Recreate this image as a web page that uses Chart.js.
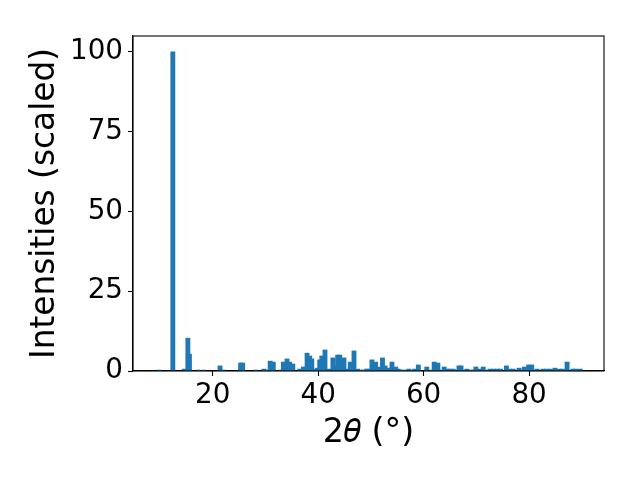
<!DOCTYPE html>
<html>
<head>
<meta charset="utf-8">
<script src="https://cdn.jsdelivr.net/npm/chart.js@4/dist/chart.umd.min.js"></script>
<style>
html,body{margin:0;padding:0;background:#fff;}
#c{display:block;}
</style>
</head>
<body>
<canvas id="c" width="640" height="480" style="width:640px;height:480px"></canvas>
<script>
const twoTheta = [9.8,12.45,14.6,15.3,15.6,17.2,18.3,21.4,22.0,25.3,25.7,28.2,29.7,30.1,30.9,31.5,32.9,33.4,34.1,34.6,35.2,36.5,37.2,37.9,38.4,38.8,39.3,39.9,40.3,40.7,41.3,42.0,42.8,43.2,43.7,44.1,44.5,44.9,45.6,46.1,46.8,47.5,48.0,48.6,49.2,49.6,50.2,50.9,51.4,52.2,52.7,53.2,54.0,54.7,55.2,55.7,56.3,57.2,57.7,58.3,59.0,60.6,61.6,62.0,62.7,63.3,63.9,64.5,65.0,65.6,66.7,67.1,67.6,68.2,68.9,69.5,69.9,70.5,71.3,72.0,72.6,73.3,74.0,74.6,75.7,76.3,77.0,78.1,79.1,79.9,80.5,81.5,82.6,83.3,84.0,84.9,85.7,86.3,87.2,88.3,88.8,89.7];
const intensity = [0.3,100,0.6,10.3,5.3,0.3,0.3,1.6,0.3,2.5,2.5,0.3,0.6,0.3,3.1,2.8,0.3,2.8,3.8,2.8,2.2,0.6,1.25,5.6,4.7,3.8,0.6,0.9,3.5,4.7,6.6,0.6,4.1,1.6,5.0,5.0,2.5,4.1,0.6,2.8,6.3,0.6,0.3,0.3,0.6,0.6,3.5,2.8,1.25,4.1,1.6,0.9,2.8,1.25,0.6,0.3,0.3,0.6,0.3,0.6,1.9,1.25,0.3,2.8,2.5,0.3,1.25,0.6,0.6,0.6,1.6,1.6,0.3,0.6,0.3,0.3,1.25,0.6,1.25,0.3,0.6,0.6,0.6,0.6,1.6,0.6,0.6,0.9,1.25,1.9,1.9,0.6,0.6,0.6,0.6,0.9,0.6,0.6,2.8,0.6,0.6,0.6];
const xTicks = [20,40,60,80];
const yTicks = [0,25,50,75,100];
const xTitle = '2\u{1D703} (\u00B0)';
const yTitle = 'Intensities (scaled)';

const points = twoTheta.map((x,i)=>({x:x, y:intensity[i]}));
const FONT = "'DejaVu Sans', sans-serif";

const frame = {
  id:'frame',
  afterDraw(chart){
    const a = chart.chartArea, ctx = chart.ctx;
    ctx.save();
    ctx.strokeStyle = '#000';
    ctx.lineWidth = 1.1;
    ctx.strokeRect(a.left, a.top, a.right-a.left, a.bottom-a.top);
    ctx.restore();
  }
};

new Chart(document.getElementById('c'), {
  type:'bar',
  data:{datasets:[{data:points, backgroundColor:'#1f77b4', borderWidth:0, barThickness:4.2}]},
  options:{
    responsive:false, animation:false,
    layout:{padding:{top:36,right:36,left:0,bottom:0}},
    plugins:{legend:{display:false}, tooltip:{enabled:false}},
    scales:{
      x:{type:'linear', min:4.9, max:94.2, offset:false,
        afterBuildTicks:s=>{s.ticks = xTicks.map(v=>({value:v}));},
        afterFit:s=>{s.height = 109;},
        grid:{offset:false, drawOnChartArea:false, tickLength:5, tickWidth:1.1, tickColor:'#000'},
        border:{color:'#000', width:1.1},
        ticks:{color:'#000', font:{family:FONT, size:27.8}, padding:3, maxRotation:0, autoSkip:false},
        title:{display:true, text:xTitle, color:'#000', font:{family:FONT, size:33.3}, padding:{top:0,bottom:27}}
      },
      y:{min:0, max:105,
        afterBuildTicks:s=>{s.ticks = yTicks.map(v=>({value:v}));},
        afterFit:s=>{s.width = 133;},
        grid:{offset:false, drawOnChartArea:false, tickLength:5, tickWidth:1.1, tickColor:'#000'},
        border:{color:'#000', width:1.1},
        ticks:{color:'#000', font:{family:FONT, size:27.8}, padding:5, autoSkip:false},
        title:{display:true, text:yTitle, color:'#000', font:{family:FONT, size:32.8}, padding:{top:26,bottom:0}}
      }
    }
  },
  plugins:[frame]
});
</script>
</body>
</html>
